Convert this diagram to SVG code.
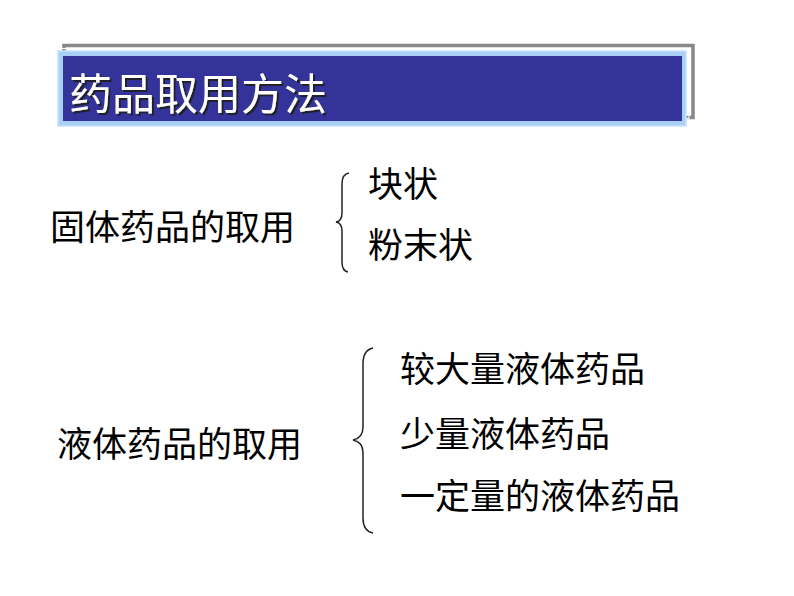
<svg xmlns="http://www.w3.org/2000/svg" width="794" height="596" viewBox="0 0 794 596">
<defs>
<filter id="sh" x="-5%" y="-20%" width="110%" height="140%">
<feDropShadow dx="2" dy="2" stdDeviation="0.6" flood-color="#1a1a1a" flood-opacity="0.9"/>
</filter>
</defs>
<style>
.t{font-family:"Noto Sans CJK SC","Noto Sans CJK JP",sans-serif;font-size:35px;fill:#000}
.title{font-family:"Noto Sans CJK SC","Noto Sans CJK JP",sans-serif;font-size:43px;fill:#fff}
.br{fill:none;stroke:#222;stroke-width:1.5}
</style>
<rect width="794" height="596" fill="#fff"/>
<g id="title">
<rect x="64" y="45.5" width="629" height="72" fill="none" stroke="#888" stroke-width="3.5"/>
<rect x="61" y="48.5" width="628" height="70" fill="none" stroke="#fff" stroke-width="1"/>
<rect x="58" y="51" width="628" height="75" fill="#a8cff5" stroke="#c8e2fa" stroke-width="1.5"/>
<rect x="63" y="56" width="619" height="65" fill="#333399"/>
<text x="69" y="110" class="title" filter="url(#sh)">药品取用方法</text>
</g>
<g id="solid">
<text x="50" y="240" class="t">固体药品的取用</text>
</g>
<g id="solid-lump"><text x="368" y="197" class="t">块状</text></g>
<g id="solid-powder"><text x="368" y="258" class="t">粉末状</text></g>
<g id="liquid">
<text x="57" y="457" class="t">液体药品的取用</text>
</g>
<g id="liquid-large"><text x="400" y="382" class="t">较大量液体药品</text></g>
<g id="liquid-small"><text x="400" y="447" class="t">少量液体药品</text></g>
<g id="liquid-fixed"><text x="400" y="509" class="t">一定量的液体药品</text></g>
<g id="connectors">
<path class="br" d="M349,173 Q342,174 342,184 L342,213 Q342,221 336,222 Q342,223 342,231 L342,262 Q342,271 348,272"/>
<path class="br" d="M373,348 Q363,350 363,364 L363,427 Q363,438 353,440 Q363,442 363,453 L363,518 Q363,531 373,533"/>
</g>
</svg>
